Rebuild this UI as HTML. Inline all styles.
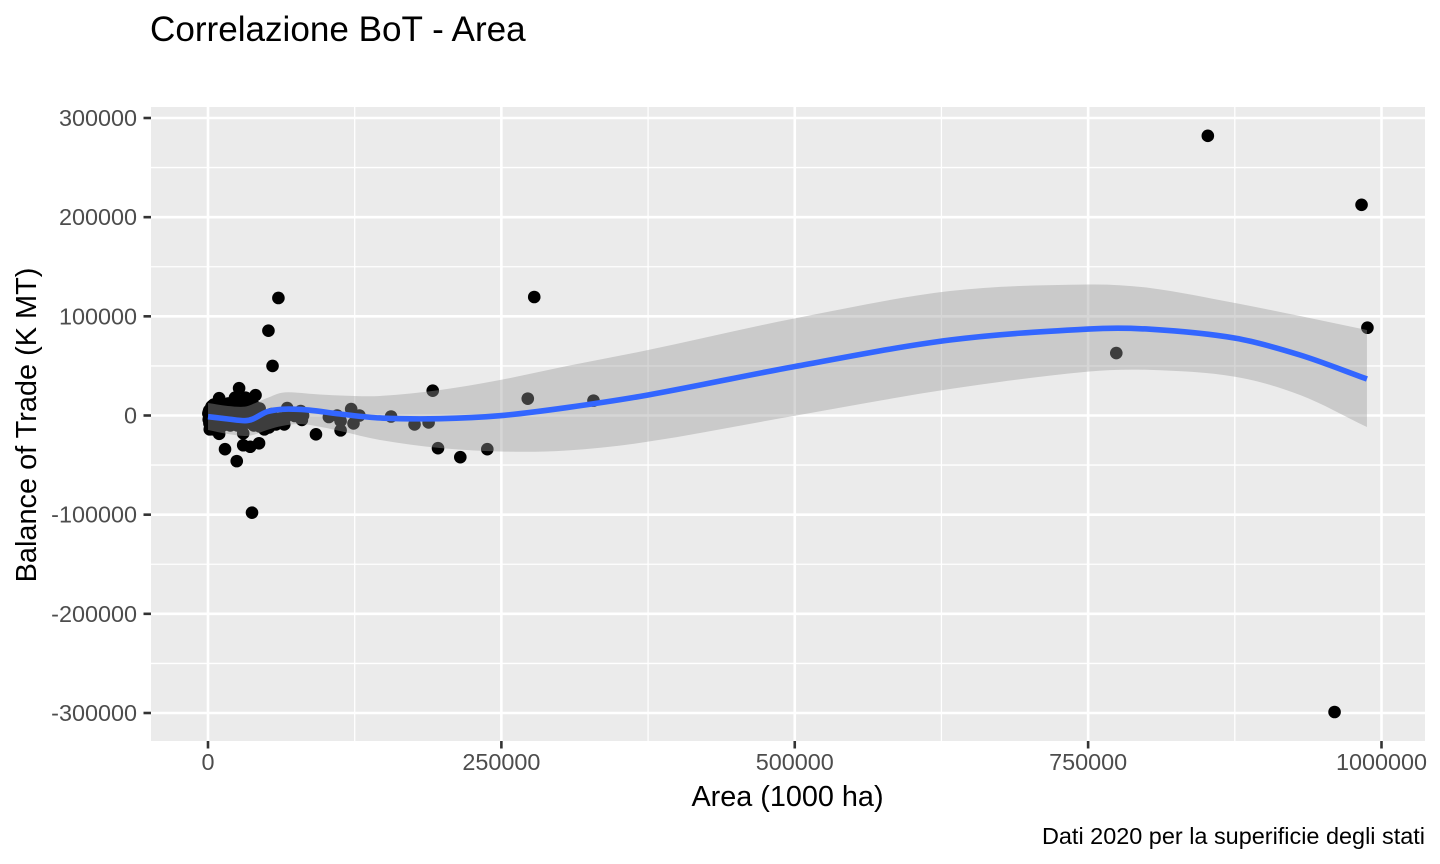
<!DOCTYPE html>
<html lang="it">
<head>
<meta charset="utf-8">
<title>Correlazione BoT - Area</title>
<style>
html,body{margin:0;padding:0;background:#fff;}
svg{display:block;font-family:"Liberation Sans",Arial,sans-serif;}
</style>
</head>
<body>
<svg id="chart" xmlns="http://www.w3.org/2000/svg" width="1440" height="864" viewBox="0 0 1440 864">
  <rect x="0" y="0" width="1440" height="864" fill="#ffffff"/>
  <rect x="151" y="107" width="1274" height="634" fill="#ebebeb"/>
  <g id="grid-minor"></g>
  <g id="grid-major"></g>
  <g id="points"></g>
  <path id="ribbon" fill="#999999" fill-opacity="0.4" stroke="none"/>
  <path id="smooth" fill="none" stroke="#3366ff" stroke-width="5.6" stroke-linejoin="round"/>
  <g id="x-axis"></g>
  <g id="y-axis"></g>
  <text x="150" y="41" font-size="35.1" fill="#000000">Correlazione BoT - Area</text>
  <text x="787.5" y="806" font-size="28.8" fill="#000000" text-anchor="middle">Area (1000 ha)</text>
  <text transform="translate(36 425) rotate(-90)" font-size="28.9" fill="#000000" text-anchor="middle">Balance of Trade (K MT)</text>
  <text x="1425" y="844" font-size="23.45" fill="#000000" text-anchor="end">Dati 2020 per la superificie degli stati</text>
</svg>
<script>
const xTicks = [0, 250000, 500000, 750000, 1000000];
const xTickLabels = ["0", "250000", "500000", "750000", "1000000"];
const xMinorTicks = [125000, 375000, 625000, 875000];
const yTicks = [300000, 200000, 100000, 0, -100000, -200000, -300000];
const yTickLabels = ["300000", "200000", "100000", "0", "-100000", "-200000", "-300000"];
const yMinorTicks = [250000, 150000, 50000, -50000, -150000, -250000];

const areaValues = [
  852000, 983000, 988000, 960000, 774000, 278000, 60000, 51500, 55000, 37500,
  191500, 272500, 328500, 238000, 215000, 196000, 188000, 176000, 156000, 122000,
  129000, 124000, 113000, 113000, 110000, 103000, 92000, 81000, 79000, 80000,
  74000, 67500, 65000, 58000, 52000, 48000, 44000, 42000, 60000, 56000,
  9500, 26500, 40500, 14500, 24500, 30000, 36000, 43500, 30000, 9500,
  23000, 32000, 17000, 27000, 36000, 45000, 50000, 55000, 62000, 47000,
  300, 600, 900, 1200, 1500, 2000, 2500, 3000, 3500, 4000,
  4500, 5000, 5500, 6000, 6500, 7000, 7500, 8000, 8500, 9000,
  10000, 11000, 12000, 13000, 14000, 15000, 16000, 17000, 18000, 19000,
  20000, 21000, 22000, 23000, 24000, 25000, 26000, 27000, 28000, 29000,
  30000, 31000, 32000, 33000, 34000, 35000, 1000, 2000, 3000, 4000,
  5000, 6000, 7000, 8000, 9000, 10000, 12000, 14000, 16000, 18000,
  20000, 22000, 24000, 26000, 28000, 30000, 32000, 34000, 38000, 41000,
  44000, 47000, 50000, 53000, 56000, 59000, 62000, 46000, 54000, 66000,
  36000, 38000, 40000, 42000, 44000, 37000, 39000, 41000, 43000, 33000
];
const botValues = [
  282000, 212500, 88500, -299000, 63000, 119500, 118500, 85500, 50000, -98000,
  25000, 17000, 15000, -34000, -42000, -33000, -7000, -9000, -1000, 6500,
  0, -8000, -15000, -5500, 0, -1500, -19000, 0, 4500, -4500,
  -500, 7500, -9000, -9000, -12000, -14000, -11000, 1000, -6000, -3000,
  17500, 27500, 20500, -34000, -46000, -30000, -31500, -28000, -18000, -18500,
  18000, 18000, 12000, 14000, 15000, -9000, -8000, -6000, -5000, -12000,
  2000, -4000, 4000, -8000, -14000, 6000, -12000, 9000, -10000, 10000,
  -14000, 11000, -6000, 10500, -13000, 11500, -9000, 12000, -12000, 9000,
  11000, -11000, 12000, -10000, 10500, -9000, 11000, -8000, 12000, -10000,
  10000, -9000, 11500, -8000, 9000, -10000, 10000, -7000, 9000, -9000,
  10000, -8000, 9000, -7000, 8000, -6000, 5000, -7000, -3000, 4000,
  -2000, 5000, -3000, 6000, 2000, -4000, 4000, -3000, 3000, 1000,
  -2000, 5000, -1000, 3000, -3000, 4000, 2000, -2000, -6000, -4000,
  -6000, -3000, -4000, -2000, -4000, -5000, -3000, 1000, 1500, -2000,
  8000, 6000, 9000, 4000, 7000, -8000, -10000, -7000, -9000, 1000
];

const smoothArea = [0, 17000, 31500, 38300, 50300, 63000, 76700, 89500, 112500, 146600, 197700, 248800, 305900, 375000, 500200, 632300, 749900, 802700, 875200, 930600, 987600];
const smoothFit = [-1200, -3500, -5200, -3500, 3800, 6250, 6250, 5000, 1500, -2500, -3200, -200, 8000, 20700, 49400, 76100, 87200, 87000, 78000, 61000, 36800];
const smoothUpper = [12600, 9600, 8900, 11600, 17600, 23000, 23000, 21700, 20200, 19700, 25700, 35800, 49900, 66000, 98000, 125500, 132100, 128600, 113400, 100300, 86200];
const smoothLower = [-14600, -18700, -20700, -19700, -14600, -10600, -8600, -10100, -15600, -24700, -32800, -36300, -35300, -26400, -200, 26700, 44200, 46000, 39100, 20700, -11600];

const xScale = v => 208 + v * 0.0011735;
const yScale = v => 415.5 - v * 0.00099167;

const svgNS = "http://www.w3.org/2000/svg";
const make = (tag, attrs, parent) => {
  const el = document.createElementNS(svgNS, tag);
  for (const k in attrs) el.setAttribute(k, attrs[k]);
  parent.appendChild(el);
  return el;
};

const gridMinor = document.getElementById("grid-minor");
const gridMajor = document.getElementById("grid-major");
const xAxisGroup = document.getElementById("x-axis");
const yAxisGroup = document.getElementById("y-axis");
const pointsGroup = document.getElementById("points");

xMinorTicks.forEach(v => {
  const el = make("line", {x1: xScale(v), x2: xScale(v), y1: 107, y2: 741, stroke: "#ffffff", "stroke-width": 1.3}, gridMinor);
  
  
});
yMinorTicks.forEach(v => {
  const el = make("line", {x1: 151, x2: 1425, y1: yScale(v), y2: yScale(v), stroke: "#ffffff", "stroke-width": 1.3}, gridMinor);
  
  
});
xTicks.forEach((v, i) => {
  const grid = make("line", {x1: xScale(v), x2: xScale(v), y1: 107, y2: 741, stroke: "#ffffff", "stroke-width": 2.6}, gridMajor);
  
  
  const tick = make("line", {x1: xScale(v), x2: xScale(v), y1: 741, y2: 748.5, stroke: "#333333", "stroke-width": 2.6}, xAxisGroup);
  
  
  const label = make("text", {x: xScale(v), y: 770, "font-size": 23.4, fill: "#4d4d4d", "text-anchor": "middle"}, xAxisGroup);
  label.textContent = xTickLabels[i];
  
  
});
yTicks.forEach((v, i) => {
  const grid = make("line", {x1: 151, x2: 1425, y1: yScale(v), y2: yScale(v), stroke: "#ffffff", "stroke-width": 2.6}, gridMajor);
  
  
  const tick = make("line", {x1: 143.5, x2: 151, y1: yScale(v), y2: yScale(v), stroke: "#333333", "stroke-width": 2.6}, yAxisGroup);
  
  
  const label = make("text", {x: 137, y: yScale(v) + 8, "font-size": 23.4, fill: "#4d4d4d", "text-anchor": "end"}, yAxisGroup);
  label.textContent = yTickLabels[i];
  
  
});

areaValues.forEach((a, i) => {
  const dot = make("circle", {cx: xScale(a), cy: yScale(botValues[i]), r: 6.3, fill: "#000000"}, pointsGroup);
  
  
});

// Cubic Hermite smoothing with spacing-aware slopes, through the fitted values
function curve(pts, move) {
  const slope = i => {
    const a = pts[Math.max(i - 1, 0)], b = pts[Math.min(i + 1, pts.length - 1)];
    return (b[1] - a[1]) / (b[0] - a[0]);
  };
  let d = (move ? "M" : "L") + pts[0][0].toFixed(2) + " " + pts[0][1].toFixed(2);
  for (let i = 0; i < pts.length - 1; i++) {
    const p1 = pts[i], p2 = pts[i + 1], h = (p2[0] - p1[0]) / 3;
    const c1 = [p1[0] + h, p1[1] + slope(i) * h];
    const c2 = [p2[0] - h, p2[1] - slope(i + 1) * h];
    d += "C" + c1[0].toFixed(2) + " " + c1[1].toFixed(2) + " " + c2[0].toFixed(2) + " " + c2[1].toFixed(2) + " " + p2[0].toFixed(2) + " " + p2[1].toFixed(2);
  }
  return d;
}
const toPts = arr => arr.map((v, i) => [xScale(smoothArea[i]), yScale(v)]);
document.getElementById("smooth").setAttribute("d", curve(toPts(smoothFit), true));
document.getElementById("ribbon").setAttribute("d", curve(toPts(smoothUpper), true) + curve(toPts(smoothLower).reverse(), false) + "Z");
</script>
</body>
</html>
